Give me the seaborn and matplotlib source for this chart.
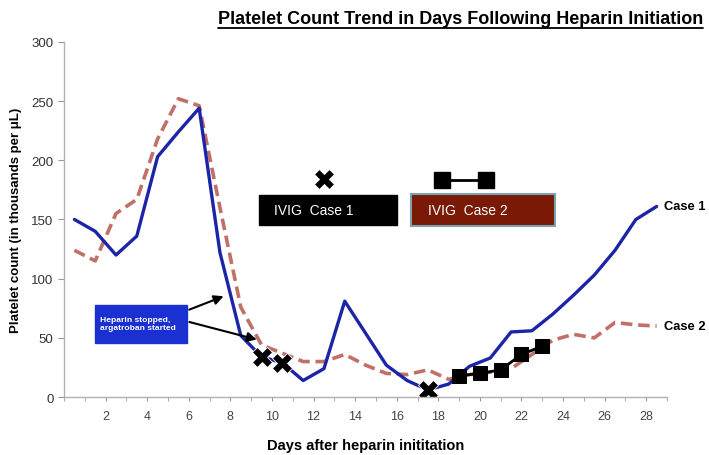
import numpy as np
import pandas as pd
import seaborn as sns
import matplotlib.pyplot as plt
from matplotlib.patches import Rectangle
from matplotlib.lines import Line2D

# data (points sit at half days)
days = np.arange(29) + 0.5
case1 = [150, 140, 120, 136, 203, 224, 244, 122, 52, 34, 29, 14, 24, 81, 54,
         27, 14, 6, 11, 26, 33, 55, 56, 70, 86, 103, 124, 150, 161]
case2 = [124, 115, 155, 167, 218, 252, 246, 160, 76, 44, 37, 30, 30, 36, 27,
         20, 19, 23, 15, 19, 21, 24, 36, 48, 53, 50, 63, 61, 60]

ivig1_days = [9.5, 10.5, 17.5]
ivig1_vals = [34, 29, 6]
ivig2_days = [19, 20, 21, 22, 23]
ivig2_vals = [18, 20, 23, 36, 43]

xticks = list(range(2, 29, 2))
yticks = [0, 50, 100, 150, 200, 250, 300]

df = pd.DataFrame({"day": days, "Case 1": case1, "Case 2": case2})

sns.set_style("white")
plt.rcParams["font.family"] = ["Liberation Sans", "DejaVu Sans"]
plt.rcParams["text.color"] = "black"
plt.rcParams["axes.labelcolor"] = "black"

fig = plt.figure(figsize=(7.09, 4.56), dpi=100)
ax = fig.add_axes([0.0903, 0.127, 0.8505, 0.779])

blue = "#1c24a8"
rose = "#c07068"

sns.lineplot(data=df, x="day", y="Case 2", ax=ax, color=rose, lw=2.6,
             linestyle=(0, (3.2, 1.6)))
sns.lineplot(data=df, x="day", y="Case 1", ax=ax, color=blue, lw=2.4)
sns.lineplot(x=ivig2_days, y=ivig2_vals, ax=ax, color="black", lw=2,
             marker="s", markersize=10, markeredgecolor="black")
ax.plot(ivig1_days, ivig1_vals, ls="none", marker="X", markersize=15,
        color="black", markeredgecolor="white", markeredgewidth=0.6)

ax.set_xlim(0, 29)
ax.set_ylim(0, 300)
ax.set_xticks(xticks)
ax.set_xticks(range(0, 30), minor=True)
ax.set_yticks(yticks)
ax.tick_params(axis="x", which="both", length=3, color="#999999",
               labelsize=9, labelcolor="#444444", direction="out", pad=6)
ax.tick_params(axis="y", length=4, color="#999999", labelsize=9.5,
               labelcolor="#333333", direction="out")
ax.xaxis.set_tick_params(which="both", bottom=True)
ax.yaxis.set_tick_params(left=True)
for s in ["top", "right"]:
    ax.spines[s].set_visible(False)
for s in ["left", "bottom"]:
    ax.spines[s].set_color("#b0b0b0")
    ax.spines[s].set_linewidth(1)

ax.set_xlabel("Days after heparin inititation", fontsize=10.5, fontweight="bold",
              labelpad=12)
ax.set_ylabel("Platelet count (in thousands per μL)", fontsize=9.5,
              fontweight="bold", labelpad=7)

# end-of-line labels
ax.text(28.85, 161, "Case 1", fontsize=9.3, fontweight="bold", va="center")
ax.text(28.85, 60, "Case 2", fontsize=9.3, fontweight="bold", va="center")

# IVIG legend boxes
ax.add_patch(Rectangle((9.4, 145.5), 6.6, 25.5, facecolor="black",
                       edgecolor="black", clip_on=False))
ax.text(10.1, 158, "IVIG  Case 1", color="white", fontsize=10,
        va="center")
ax.plot([12.5], [184], ls="none", marker="X", markersize=15, color="black",
        markeredgecolor="white", markeredgewidth=0.6)

ax.add_patch(Rectangle((16.7, 144.5), 6.9, 27, facecolor="#7a1a06",
                       edgecolor="#7aa3b0", lw=1.5, clip_on=False))
ax.text(17.5, 158, "IVIG  Case 2", color="white", fontsize=10,
        va="center")
ax.plot([18.2, 20.3], [183, 183], color="black", lw=2, marker="s",
        markersize=12)

# heparin stopped note
ax.annotate("", xy=(7.8, 86), xytext=(5.9, 73),
            arrowprops=dict(arrowstyle="-|>", color="black", lw=1.5,
                            mutation_scale=14))
ax.annotate("", xy=(9.4, 48), xytext=(5.9, 64),
            arrowprops=dict(arrowstyle="-|>", color="black", lw=1.5,
                            mutation_scale=14))
ax.add_patch(Rectangle((1.5, 45.5), 4.4, 32.5, facecolor="#1a30d0",
                       edgecolor="#1a30d0"))
ax.text(1.75, 62, "Heparin stopped,\nargatroban started", color="white",
        fontsize=6.1, fontweight="bold", va="center", linespacing=1.25)

title = fig.text(0.649, 0.958, "Platelet Count Trend in Days Following Heparin Initiation",
                 ha="center", va="center", fontsize=13, fontweight="bold")
fig.canvas.draw()
bb = title.get_window_extent().transformed(fig.transFigure.inverted())
fig.add_artist(Line2D([bb.x0, bb.x1], [bb.y0 - 0.004, bb.y0 - 0.004],
                      color="black", lw=1.3, transform=fig.transFigure))

fig.savefig("out.png", dpi=100)
